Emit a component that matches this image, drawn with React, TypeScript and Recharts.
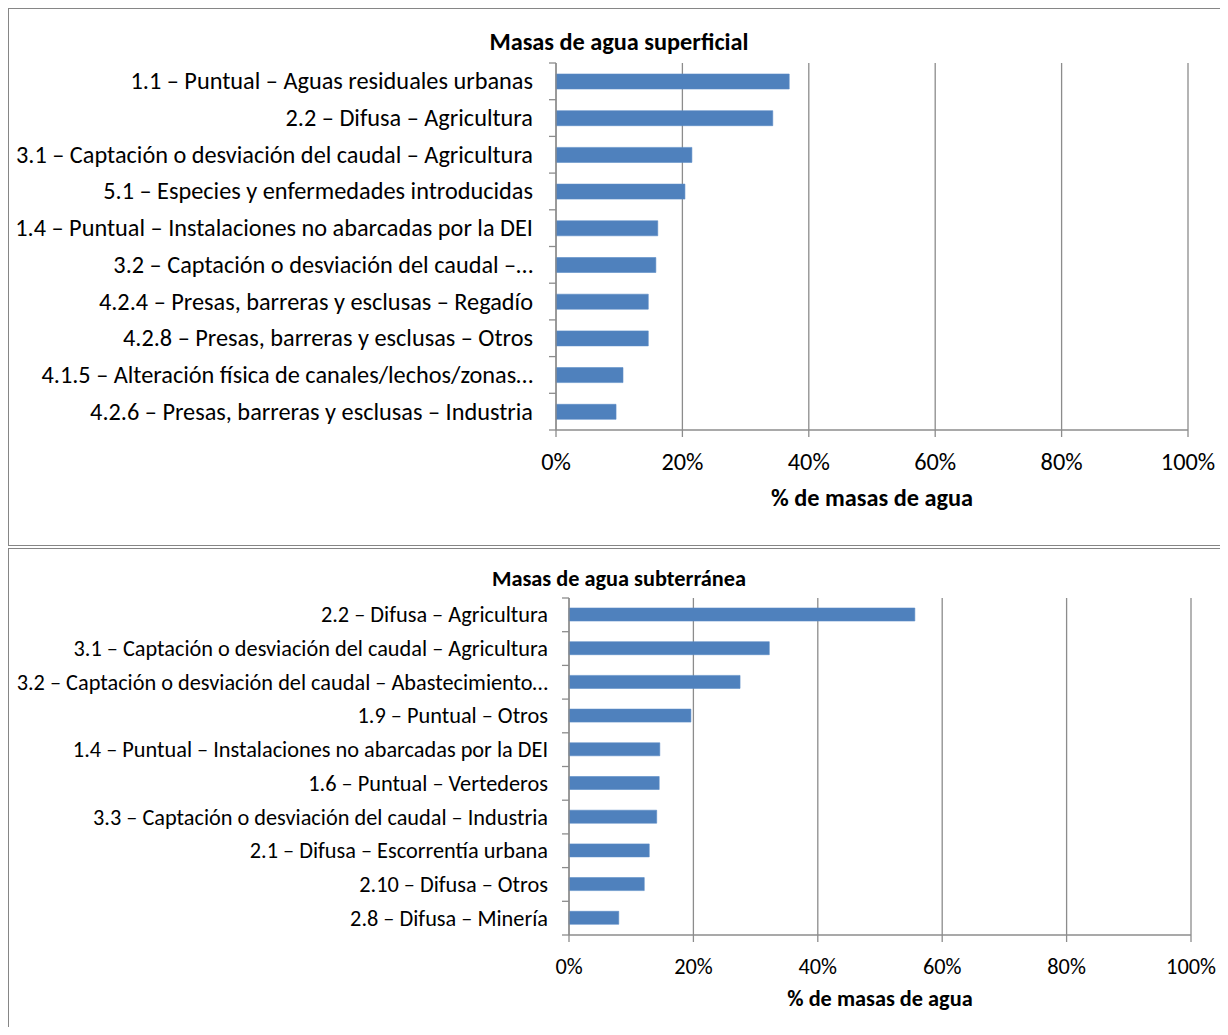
import React from 'react';
import { BarChart, Bar, XAxis, YAxis, CartesianGrid } from 'recharts';

if (typeof document !== 'undefined') {
  document.documentElement.style.overflow = 'hidden';
  document.body.style.overflow = 'hidden';
}

const FONT = 'Carlito, Calibri, Lato, sans-serif';

const supCategories = [
  '1.1 – Puntual – Aguas residuales urbanas',
  '2.2 – Difusa – Agricultura',
  '3.1 – Captación o desviación del caudal – Agricultura',
  '5.1 – Especies y enfermedades introducidas',
  '1.4 – Puntual – Instalaciones no abarcadas por la DEI',
  '3.2 – Captación o desviación del caudal –…',
  '4.2.4 – Presas, barreras y esclusas – Regadío',
  '4.2.8 – Presas, barreras y esclusas – Otros',
  '4.1.5 – Alteración física de canales/lechos/zonas…',
  '4.2.6 – Presas, barreras y esclusas – Industria',
];
const supValues = [36.9, 34.3, 21.5, 20.4, 16.1, 15.8, 14.6, 14.6, 10.6, 9.5];

const subCategories = [
  '2.2 – Difusa – Agricultura',
  '3.1 – Captación o desviación del caudal – Agricultura',
  '3.2 – Captación o desviación del caudal – Abastecimiento…',
  '1.9 – Puntual – Otros',
  '1.4 – Puntual – Instalaciones no abarcadas por la DEI',
  '1.6 – Puntual – Vertederos',
  '3.3 – Captación o desviación del caudal – Industria',
  '2.1 – Difusa – Escorrentía urbana',
  '2.10 – Difusa – Otros',
  '2.8 – Difusa – Minería',
];
const subValues = [55.6, 32.2, 27.5, 19.6, 14.6, 14.5, 14.1, 12.9, 12.1, 8.0];

const xTicks = [0, 20, 40, 60, 80, 100];

const GRID = '#8c8c8c';
const BAR = '#4F81BD';

type PanelProps = {
  title: string;
  categories: string[];
  values: number[];
  top: number;
  boxHeight: number;
  chartHeight: number;
  yAxisWidth: number;
  marginTop: number;
  plotHeight: number;
  marginRight: number;
  fontSize: number;
  labelGap: number;
  titleX: number;
  titleY: number;
  axisTitleY: number;
  tickDy: number;
  barSize: number;
};

function makeYTick(fontSize: number, gap: number, band: number, last: string) {
  return (props: any) => {
    const { x, y, payload } = props;
    const half = band / 2;
    return (
      <g>
        <text x={x - gap} y={y} textAnchor="end" dominantBaseline="central" fontSize={fontSize} fontFamily={FONT} fill="#000">
          {payload.value}
        </text>
        <line x1={x - 7} x2={x} y1={y - half} y2={y - half} stroke={GRID} strokeWidth={1.3} />
        {payload.value === last && (
          <line x1={x - 7} x2={x} y1={y + half} y2={y + half} stroke={GRID} strokeWidth={1.3} />
        )}
      </g>
    );
  };
}

function makeXTick(fontSize: number, dy: number) {
  return (props: any) => {
    const { x, y, payload } = props;
    return (
      <text x={x} y={y + dy} textAnchor="middle" dominantBaseline="central" fontSize={fontSize} fontFamily={FONT} fill="#000">
        {`${payload.value}%`}
      </text>
    );
  };
}

function Panel(p: PanelProps) {
  const data = p.categories.map((c, i) => ({ name: c, value: p.values[i] }));
  const band = p.plotHeight / p.categories.length;
  const xAxisHeight = 60;
  const marginBottom = p.chartHeight - p.marginTop - p.plotHeight - xAxisHeight;
  const plotLeft = p.yAxisWidth;
  const plotRight = 1220 - p.marginRight;
  return (
    <div
      style={{
        position: 'absolute',
        left: 0,
        top: p.top,
        width: 1250,
        height: p.boxHeight,
        border: '1px solid #868686',
        boxSizing: 'border-box',
        background: '#fff',
      }}
    >
      <div
        style={{
          position: 'absolute',
          left: p.titleX,
          top: p.titleY,
          transform: 'translate(-50%, -50%)',
          fontFamily: FONT,
          fontWeight: 'bold',
          fontSize: p.fontSize,
          lineHeight: 1,
          whiteSpace: 'nowrap',
          color: '#000',
        }}
      >
        {p.title}
      </div>
      <div
        style={{
          position: 'absolute',
          left: (plotLeft + plotRight) / 2,
          top: p.axisTitleY,
          transform: 'translate(-50%, -50%)',
          fontFamily: FONT,
          fontWeight: 'bold',
          fontSize: p.fontSize,
          lineHeight: 1,
          whiteSpace: 'nowrap',
          color: '#000',
        }}
      >
        % de masas de agua
      </div>
      <BarChart
        width={1220}
        height={p.chartHeight}
        data={data}
        layout="vertical"
        margin={{ top: p.marginTop, right: p.marginRight, bottom: marginBottom, left: 0 }}
        barSize={p.barSize}
      >
        <CartesianGrid horizontal={false} vertical stroke={GRID} strokeWidth={1.3} />
        <XAxis
          type="number"
          domain={[0, 100]}
          ticks={xTicks}
          interval={0}
          height={xAxisHeight}
          axisLine={{ stroke: GRID, strokeWidth: 1.3 }}
          tickLine={{ stroke: GRID, strokeWidth: 1.3 }}
          tickSize={7}
          tickMargin={0}
          tick={makeXTick(p.fontSize, p.tickDy)}
        />
        <YAxis
          type="category"
          dataKey="name"
          width={p.yAxisWidth}
          interval={0}
          axisLine={{ stroke: GRID, strokeWidth: 1.3 }}
          tickLine={false}
          tickSize={0}
          tickMargin={0}
          tick={makeYTick(p.fontSize, p.labelGap, band, p.categories[p.categories.length - 1])}
        />
        <Bar dataKey="value" fill={BAR} stroke="#5b8cc6" strokeWidth={0.6} isAnimationActive={false} />
      </BarChart>
    </div>
  );
}

export default function App() {
  return (
    <div style={{ position: 'relative', width: 1240, height: 1019, overflow: 'hidden', background: '#fff' }}>
      <Panel
        title="Masas de agua superficial"
        categories={supCategories}
        values={supValues}
        top={0}
        boxHeight={538}
        chartHeight={530}
        yAxisWidth={547}
        marginTop={54}
        plotHeight={367}
        marginRight={41}
        fontSize={24.3}
        labelGap={23}
        titleX={610}
        titleY={33}
        axisTitleY={489}
        tickDy={25}
        barSize={15}
      />
      <Panel
        title="Masas de agua subterránea"
        categories={subCategories}
        values={subValues}
        top={540}
        boxHeight={520}
        chartHeight={486}
        yAxisWidth={560}
        marginTop={49}
        plotHeight={337}
        marginRight={38}
        fontSize={22.3}
        labelGap={21}
        titleX={610}
        titleY={30}
        axisTitleY={450}
        tickDy={24}
        barSize={13}
      />
    </div>
  );
}
